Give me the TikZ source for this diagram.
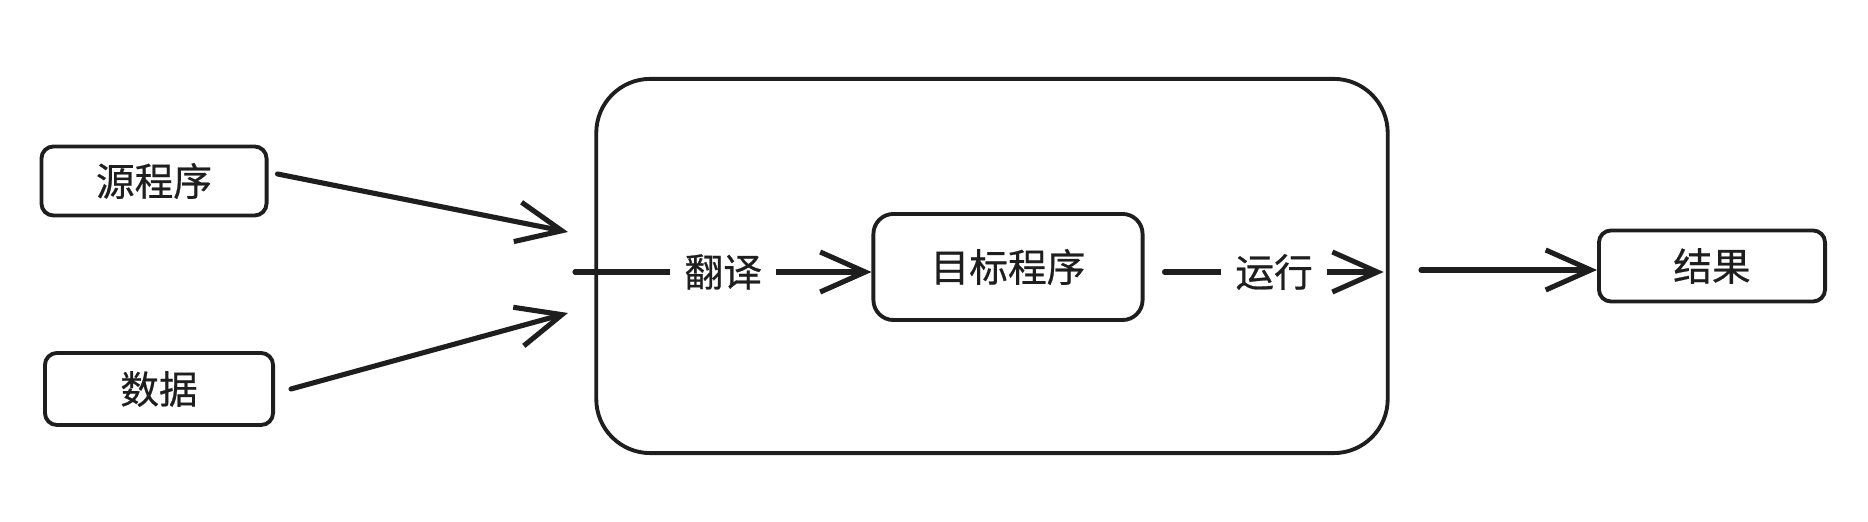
\documentclass[tikz,border=0pt]{standalone}
\usepackage{fontspec}
\setmainfont{Noto Sans CJK SC}[FakeBold=0.6, BoldFont={Noto Sans CJK SC}]
\usetikzlibrary{arrows.meta}

\definecolor{ink}{HTML}{1E1E1E}
\tikzset{
  box/.style={draw=ink, line width=1.1pt, rounded corners=0.12cm, text=ink,
    font=\fontsize{11}{13}\selectfont\bfseries, inner sep=0pt},
  link/.style={draw=ink, line width=1.45pt, line cap=round,
    -{Straight Barb[length=4.5mm,width=4mm,line width=1.45pt]}},
  lbl/.style={fill=white, text=ink, inner xsep=4pt, inner ysep=1pt,
    font=\fontsize{11}{13}\selectfont\bfseries}
}

\begin{document}
\begin{tikzpicture}[x=0.01cm,y=-0.01cm]
    \useasboundingbox (0,0) rectangle (1868,522);

    % the frame
    \node[box, rounded corners=0.54cm, minimum width=7.91cm, minimum height=3.74cm] (frame) at (992,266) {};

    \node[box, minimum width=2.25cm, minimum height=0.69cm] (src) at (154,181) {源程序};
    \node[box, minimum width=2.28cm, minimum height=0.72cm] (data) at (159,389) {数据};
    \node[box, rounded corners=0.2cm, minimum width=2.69cm, minimum height=1.06cm] (target) at (1008,267) {目标程序};
    \node[box, minimum width=2.26cm, minimum height=0.71cm] (result) at (1712,266) {结果};

    \coordinate (inA) at (568,232);
    \coordinate (inB) at (568,313);
    \coordinate (tin) at (575,272);
    \coordinate (outR) at (1421,270);

    \draw[link] ([xshift=0.09cm,yshift=0.07cm]src.east) -- (inA);
    \draw[link] ([xshift=0.16cm]data.east) -- (inB);
    \draw[link] (tin) -- node[lbl] {翻译} (target.west |- tin);
    \draw[link] ([xshift=0.2cm]target.east |- tin) -- node[lbl] {运行} ([xshift=-0.06cm]frame.east |- tin);
    \draw[link] (outR) -- (result.west |- outR);
\end{tikzpicture}
\end{document}
